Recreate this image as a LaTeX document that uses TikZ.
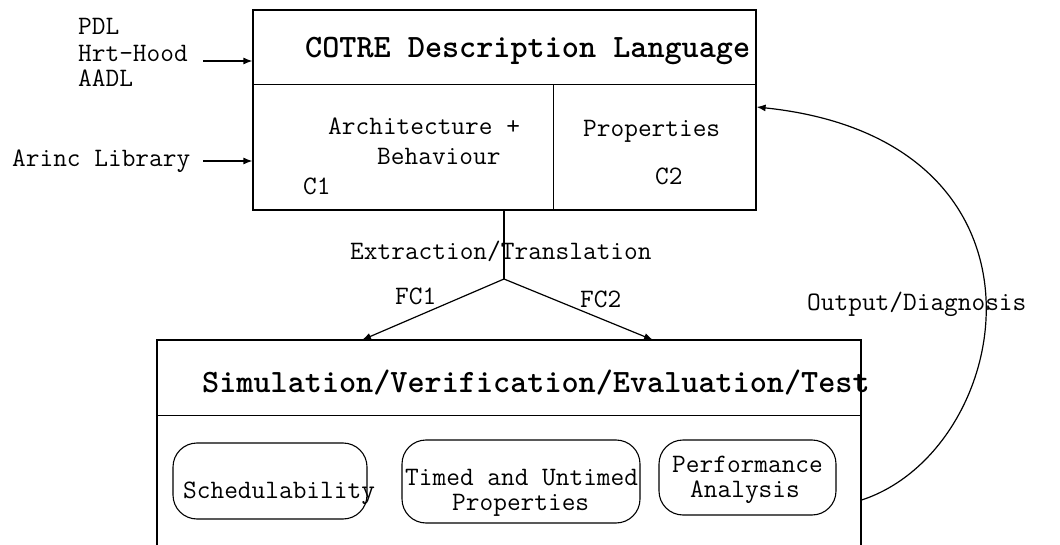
\documentclass[tikz,border=0pt]{standalone}
\usetikzlibrary{arrows.meta}
\begin{document}
\begin{tikzpicture}[x=1pt,y=-1pt,
  box/.style={draw, line width=1.2pt, inner sep=0pt},
  rbox/.style={draw, line width=1.1pt, rounded corners=24pt, inner sep=0pt},
  txt/.style={anchor=base west, inner sep=0pt, font=\ttfamily\fontsize{26.6}{30}\selectfont},
  ttl/.style={anchor=base west, inner sep=0pt, font=\ttfamily\bfseries\fontsize{32.6}{36}\selectfont},
  arr/.style={line width=1.2pt, -{Latex[length=9pt,width=7pt]}},
  ln/.style={line width=1.2pt}]
\clip (0,0) rectangle (1060,545);
\useasboundingbox (0,0) rectangle (1060,545);
% top box
\node[box, minimum width=503pt, minimum height=200pt] (cotre) at (504.5,110) {};
\draw[ln] ([yshift=-75pt]cotre.north west) -- ([yshift=-75pt]cotre.north east);
\draw[ln] ([xshift=301pt,yshift=-75pt]cotre.north west) -- ([xshift=301pt]cotre.south west);
% bottom box
\node[box, minimum width=704pt, minimum height=220pt] (sim) at (509,450) {};
\draw[ln] ([yshift=-76pt]sim.north west) -- ([yshift=-76pt]sim.north east);
% rounded boxes
\node[rbox, minimum width=194pt, minimum height=76pt] (sched) at (270,481) {};
\node[rbox, minimum width=238pt, minimum height=83pt] (timed) at (521,481.5) {};
\node[rbox, minimum width=177pt, minimum height=75pt] (perf) at (747.5,477.5) {};
% texts
\node[txt] (pdl) at (78,35) {PDL};
\node[txt] (hrt) at (78,62) {Hrt-Hood};
\node[txt] (aadl) at (78,87) {AADL};
\node[txt] (arinc) at (12,167) {Arinc Library};
\node[ttl] (cotret) at (305,58) {COTRE Description Language};
\node[txt] (arch) at (328,135) {Architecture +};
\node[txt] (beh) at (377,165) {Behaviour};
\node[txt] (c1) at (303,195) {C1};
\node[txt] (prop) at (583,137) {Properties};
\node[txt] (c2) at (655,185) {C2};
\node[txt] (extr) at (350,260) {Extraction/Translation};
\node[txt] (fc1) at (395,305) {FC1};
\node[txt] (fc2) at (580,308) {FC2};
\node[ttl] (simt) at (202,392) {Simulation/Verification/Evaluation/Test};
\node[txt] (schedt) at (183,498) {Schedulability};
\node[txt] (timedt) at (405,485) {Timed and Untimed};
\node[txt] (timedp) at (452,510) {Properties};
\node[txt] (perft) at (672,472) {Performance};
\node[txt] (perfa) at (690,497) {Analysis};
\node[txt] (outd) at (807,310) {Output/Diagnosis};
% connectors
\coordinate (in1) at (203,61);
\coordinate (in2) at (203,161);
\draw[arr] (in1) -- (in1 -| cotre.west);
\draw[arr] (in2) -- (in2 -| cotre.west);
\coordinate (stemtop) at (cotre.south -| 504,0);
\coordinate (junc) at (504,279);
\coordinate (fc1end) at (362,340);
\coordinate (fc2end) at (653,340);
\draw[ln] (stemtop) -- (junc);
\draw[arr] (junc) -- (fc1end);
\draw[arr] (junc) -- (fc2end);
\coordinate (fbstart) at (sim.east |- 0,500);
\coordinate (fbend) at (cotre.east |- 0,107);
\draw[arr] (fbstart) .. controls (1015,450) and (1072,140) .. (fbend);
\end{tikzpicture}
\end{document}
